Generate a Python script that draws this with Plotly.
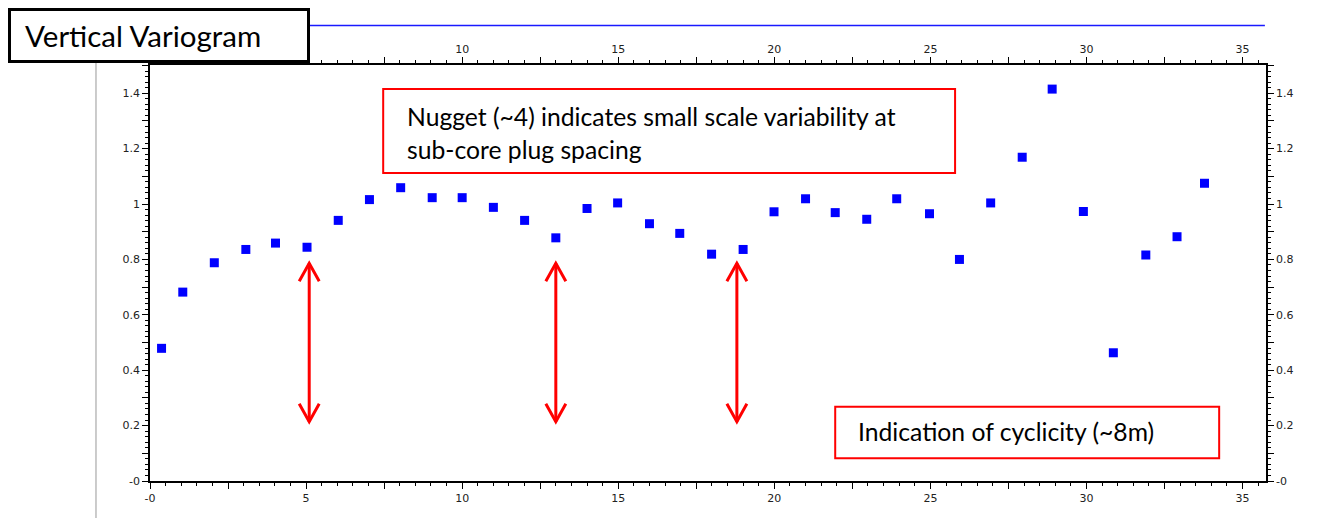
import plotly.graph_objects as go

# lag distance (m) and semivariance
lag = [0.37, 1.05, 2.06, 3.07, 4.02, 5.03, 6.03, 7.03, 8.03, 9.04, 10.0, 11.0,
       12.0, 13.0, 14.0, 14.98, 16.0, 16.97, 17.99, 19.0, 19.99, 21.0, 21.95,
       22.96, 23.92, 24.97, 25.93, 26.93, 27.94, 28.9, 29.9, 30.86, 31.9, 32.9,
       33.78]
gamma = [0.479, 0.682, 0.788, 0.836, 0.859, 0.844, 0.941, 1.016, 1.059, 1.023,
         1.023, 0.988, 0.941, 0.878, 0.984, 1.004, 0.929, 0.894, 0.819, 0.836,
         0.972, 1.019, 0.969, 0.945, 1.019, 0.965, 0.800, 1.004, 1.169, 1.415,
         0.973, 0.463, 0.816, 0.882, 1.075]

x_ticks = [0, 5, 10, 15, 20, 25, 30, 35]
x_labels = ['-0', '5', '10', '15', '20', '25', '30', '35']
y_ticks = [0, 0.2, 0.4, 0.6, 0.8, 1.0, 1.2, 1.4]
y_labels = ['-0', '0.2', '0.4', '0.6', '0.8', '1', '1.2', '1.4']

# cyclicity arrows (lag position, low end, high end)
arrow_x = [5.1, 13.0, 18.8]
arrow_low = 0.214
arrow_high = 0.786

nugget_lines = ['Nugget (~4) indicates small scale variability at',
                'sub-core plug spacing']
cycl_text = 'Indication of cyclicity (~8m)'

X_RANGE = [0, 35.75]
Y_RANGE = [0, 1.502]

# medium ticks (unlabelled) halfway between the labelled ones
xt_vals = sorted(x_ticks + [v + 2.5 for v in x_ticks if v + 2.5 < X_RANGE[1]])
xt_text = [x_labels[x_ticks.index(v)] if v in x_ticks else '' for v in xt_vals]
# top axis: first two labels sit under the title box
xt_text_top = ['' if v < 7 else t for v, t in zip(xt_vals, xt_text)]
yt_vals = sorted(y_ticks + [round(v + 0.1, 2) for v in y_ticks if v + 0.1 < Y_RANGE[1]])
yt_text = [y_labels[y_ticks.index(v)] if v in y_ticks else '' for v in yt_vals]

tickfont = dict(family='DejaVu Sans', size=11, color='#222')


def xax(side, text):
    return dict(range=X_RANGE, side=side, showgrid=False, zeroline=False,
                showline=True, linecolor='black', linewidth=1.5,
                tickmode='array', tickvals=xt_vals, ticktext=text,
                ticks='outside', ticklen=6, tickcolor='black', tickwidth=1,
                tickfont=tickfont,
                minor=dict(tickmode='linear', tick0=0, dtick=0.5, ticks='outside',
                           ticklen=3, tickcolor='black', tickwidth=1))


def yax(side):
    return dict(range=Y_RANGE, side=side, showgrid=False, zeroline=False,
                showline=True, linecolor='black', linewidth=1.5,
                tickmode='array', tickvals=yt_vals, ticktext=yt_text,
                ticks='outside', ticklen=6, tickcolor='black', tickwidth=1,
                tickfont=tickfont,
                minor=dict(tickmode='linear', tick0=0, dtick=0.02, ticks='outside',
                           ticklen=3, tickcolor='black', tickwidth=1))


fig = go.Figure()
fig.add_trace(go.Scatter(x=lag, y=gamma, mode='markers',
                         marker=dict(symbol='square', size=9, color='#0000ff'),
                         showlegend=False))
# ghost trace so the top / right axes get drawn
fig.add_trace(go.Scatter(x=lag, y=gamma, mode='markers', xaxis='x2', yaxis='y2',
                         marker=dict(opacity=0), hoverinfo='skip', showlegend=False))

shapes = []
# stray slide lines
shapes.append(dict(type='line', xref='paper', yref='paper', x0=-0.0484, x1=-0.0484,
                   y0=1.16, y1=-0.09, line=dict(color='#999', width=1)))
shapes.append(dict(type='line', xref='paper', yref='paper', x0=0.14, x1=0.999,
                   y0=1.095, y1=1.095, line=dict(color='#1a1aff', width=1.5)))
# red callout boxes
shapes.append(dict(type='rect', xref='x', yref='y', x0=7.47, x1=25.79, y0=1.112, y1=1.415,
                   line=dict(color='red', width=2), layer='above'))
shapes.append(dict(type='rect', xref='x', yref='y', x0=21.95, x1=34.25, y0=0.082, y1=0.268,
                   line=dict(color='red', width=2), layer='above'))
# double headed arrows
for ax_ in arrow_x:
    shapes.append(dict(type='line', xref='x', yref='y', x0=ax_, x1=ax_,
                       y0=arrow_low, y1=arrow_high, line=dict(color='red', width=3)))
    shapes.append(dict(type='path', xref='x', yref='y', xsizemode='pixel', ysizemode='pixel',
                       xanchor=ax_, yanchor=arrow_high, path='M-10,-18 L0,0 L10,-18',
                       fillcolor='rgba(0,0,0,0)', line=dict(color='red', width=3)))
    shapes.append(dict(type='path', xref='x', yref='y', xsizemode='pixel', ysizemode='pixel',
                       xanchor=ax_, yanchor=arrow_low, path='M-10,18 L0,0 L10,18',
                       fillcolor='rgba(0,0,0,0)', line=dict(color='red', width=3)))

notefont = dict(family='Lato', size=24.7, color='black')
annotations = [
    dict(text='\u00a0\u00a0Vertical Variogram', xref='paper', yref='paper',
         x=-0.1272, y=1.137, xanchor='left', yanchor='top', align='left',
         showarrow=False, width=296, height=49, borderwidth=3, borderpad=0,
         bordercolor='black', bgcolor='white',
         font=dict(family='Lato', size=29.5, color='black')),
    dict(text=nugget_lines[0], x=8.17, y=1.317, xref='x', yref='y', xanchor='left',
         yanchor='middle', showarrow=False, font=notefont),
    dict(text=nugget_lines[1], x=8.17, y=1.198, xref='x', yref='y', xanchor='left',
         yanchor='middle', showarrow=False, font=notefont),
    dict(text=cycl_text, x=22.62, y=0.178, xref='x', yref='y', xanchor='left',
         yanchor='middle', showarrow=False, font=notefont),
]

# the page body has an 8px margin, so the figure is a bit smaller than the window
fig.update_layout(width=1310, height=510, margin=dict(l=142, r=52, t=57, b=37),
                  plot_bgcolor='white', paper_bgcolor='white',
                  xaxis=xax('bottom', xt_text), yaxis=yax('left'),
                  xaxis2=dict(xax('top', xt_text_top), overlaying='x'),
                  yaxis2=dict(yax('right'), overlaying='y'),
                  shapes=shapes, annotations=annotations)

fig.write_html('out.html')
